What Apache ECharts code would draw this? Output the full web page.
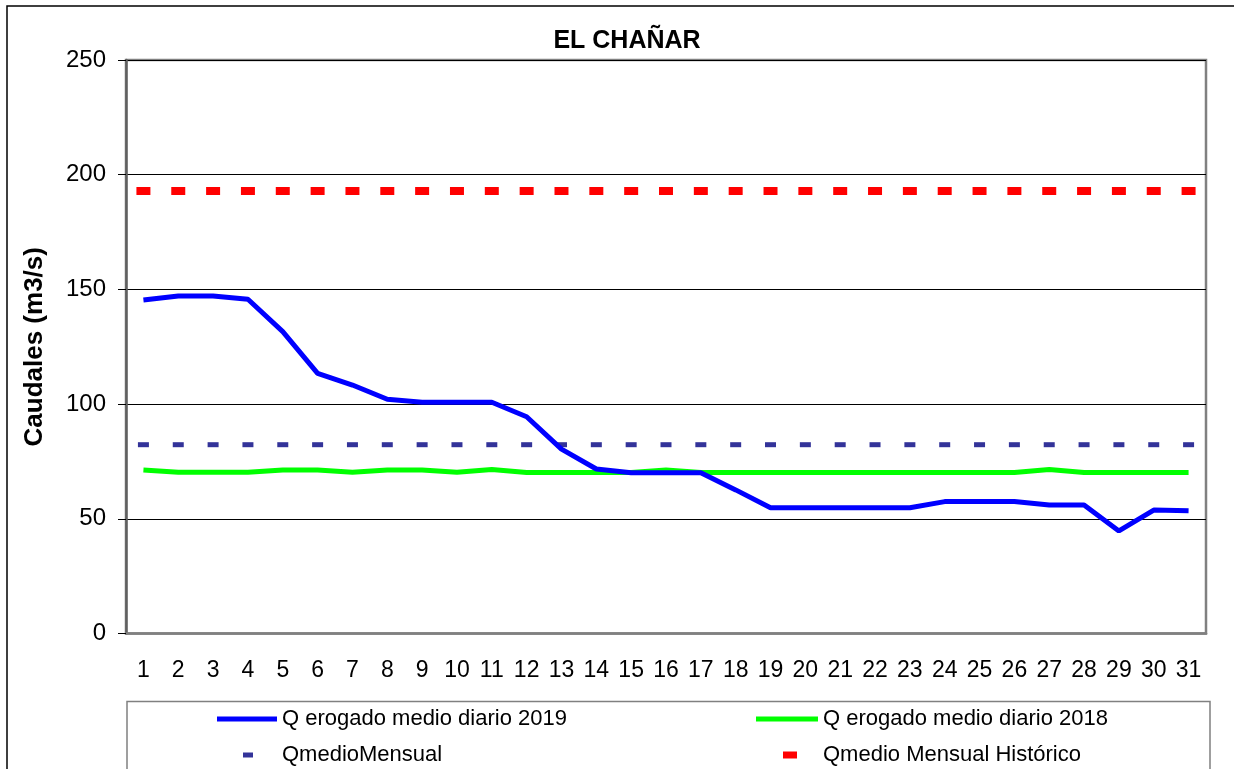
<!DOCTYPE html>
<html>
<head>
<meta charset="utf-8">
<script src="https://cdn.jsdelivr.net/npm/echarts@6/dist/echarts.min.js"></script>
<style>
  html, body { margin: 0; padding: 0; background: #fff; }
  #chart { width: 1234px; height: 769px; }
</style>
</head>
<body>
<div id="chart"></div>
<script>
const days = ['1', '2', '3', '4', '5', '6', '7', '8', '9', '10', '11', '12', '13', '14', '15', '16',
  '17', '18', '19', '20', '21', '22', '23', '24', '25', '26', '27', '28', '29', '30', '31'];

const qDiario2019 = [145.4, 147.1, 147.1, 145.7, 131.6, 113.4, 108.3, 102.1, 100.8, 100.8, 100.8,
  94.5, 80.4, 71.7, 70.1, 70.1, 70.1, 62.6, 54.8, 54.8, 54.8, 54.8, 54.8, 57.5, 57.5, 57.5,
  56, 56, 44.7, 53.8, 53.5];

const qDiario2018 = [71.3, 70.3, 70.3, 70.3, 71.3, 71.3, 70.3, 71.3, 71.3, 70.3, 71.5,
  70.2, 70.2, 70.2, 70.2, 71.3, 70.2, 70.2, 70.2, 70.2, 70.2, 70.2, 70.2, 70.2, 70.2, 70.2,
  71.5, 70.2, 70.2, 70.2, 70.2];

const qMedioMensual = [82.3, 82.3, 82.3, 82.3, 82.3, 82.3, 82.3, 82.3, 82.3, 82.3, 82.3,
  82.3, 82.3, 82.3, 82.3, 82.3, 82.3, 82.3, 82.3, 82.3, 82.3, 82.3, 82.3, 82.3, 82.3, 82.3,
  82.3, 82.3, 82.3, 82.3, 82.3];

const qHistorico = [192.9, 192.9, 192.9, 192.9, 192.9, 192.9, 192.9, 192.9, 192.9, 192.9, 192.9,
  192.9, 192.9, 192.9, 192.9, 192.9, 192.9, 192.9, 192.9, 192.9, 192.9, 192.9, 192.9, 192.9,
  192.9, 192.9, 192.9, 192.9, 192.9, 192.9, 192.9];

const names = ['Q erogado medio diario 2019', 'Q erogado medio diario 2018',
  'QmedioMensual', 'Qmedio Mensual Histórico'];

const font = '"Liberation Sans", Arial, sans-serif';

const chart = echarts.init(document.getElementById('chart'));

const legendText = { color: '#000', fontSize: 22, fontFamily: font };

const option = {
  animation: false,
  title: {
    text: 'EL CHAÑAR',
    left: 622,
    textAlign: 'center',
    top: 24,
    textStyle: { fontSize: 25, fontWeight: 'bold', color: '#000', fontFamily: font }
  },
  graphic: [
    { type: 'rect', shape: { x: 7, y: 6, width: 1260, height: 800 },
      style: { fill: 'none', stroke: '#000', lineWidth: 1.5 }, silent: true },
    { type: 'rect', shape: { x: 127, y: 701.5, width: 1083, height: 100 },
      style: { fill: 'none', stroke: '#808080', lineWidth: 1.5 }, silent: true }
  ],
  legend: [
    { data: [names[0]], left: 217, top: 708, padding: 0, itemWidth: 60, itemHeight: 5, icon: 'rect',
      textStyle: Object.assign({ padding: [0, 0, 0, 0] }, legendText) },
    { data: [names[1]], left: 756, top: 708, padding: 0, itemWidth: 62, itemHeight: 5, icon: 'rect',
      textStyle: Object.assign({ padding: [0, 0, 0, 0] }, legendText) },
    { data: [names[2]], left: 243, top: 744, padding: 0, itemWidth: 10, itemHeight: 5, icon: 'rect',
      textStyle: Object.assign({ padding: [0, 0, 0, 24] }, legendText) },
    { data: [names[3]], left: 783, top: 744, padding: 0, itemWidth: 14, itemHeight: 7, icon: 'rect',
      textStyle: Object.assign({ padding: [0, 0, 0, 21] }, legendText) }
  ],
  grid: {
    left: 126, right: 28, top: 60, bottom: 135.5,
    show: true, borderColor: '#808080', borderWidth: 2.5, backgroundColor: '#fff'
  },
  xAxis: {
    type: 'category',
    data: days,
    boundaryGap: true,
    axisLine: { lineStyle: { color: '#808080', width: 2.5 } },
    axisTick: { length: 10, lineStyle: { color: '#000', width: 1 } },
    axisLabel: { color: '#000', fontSize: 23, fontFamily: font, margin: 26 },
    splitLine: { show: false }
  },
  yAxis: {
    type: 'value',
    min: 0,
    max: 250,
    interval: 50,
    name: 'Caudales (m3/s)',
    nameLocation: 'middle',
    nameGap: 78,
    nameTextStyle: { fontSize: 26, fontWeight: 'bold', color: '#000', fontFamily: font },
    axisLine: { show: true, lineStyle: { color: '#606060', width: 2.5 } },
    axisTick: { show: true, length: 8, lineStyle: { color: '#000', width: 1 } },
    axisLabel: { color: '#000', fontSize: 24, fontFamily: font, margin: 20 },
    splitLine: { lineStyle: { color: '#000', width: 1 } }
  },
  series: [
    {
      name: names[0], type: 'line', data: qDiario2019, symbol: 'none',
      itemStyle: { color: '#0000FF' },
      lineStyle: { color: '#0000FF', width: 5 }, z: 4
    },
    {
      name: names[1], type: 'line', data: qDiario2018, symbol: 'none',
      itemStyle: { color: '#00FF00' },
      lineStyle: { color: '#00FF00', width: 5 }, z: 3
    },
    {
      name: names[2], type: 'scatter', data: qMedioMensual, symbol: 'rect',
      symbolSize: [11, 5], itemStyle: { color: '#333399', opacity: 1 }, z: 2
    },
    {
      name: names[3], type: 'scatter', data: qHistorico, symbol: 'rect',
      symbolSize: [14, 8], itemStyle: { color: '#FF0000', opacity: 1 }, z: 2
    }
  ]
};

chart.setOption(option);
</script>
</body>
</html>
